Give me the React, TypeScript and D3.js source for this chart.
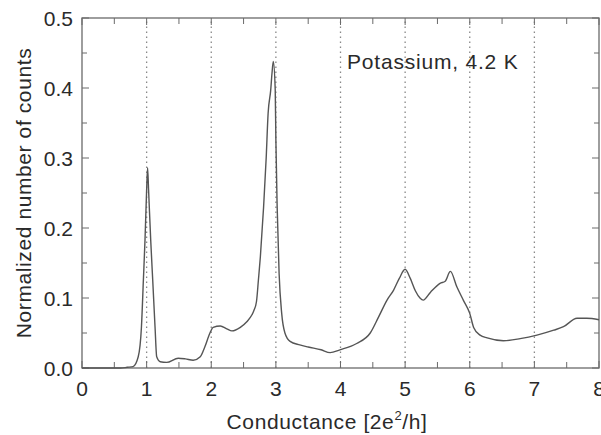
import React, { useEffect, useRef } from 'react';
import * as d3 from 'd3';

// conductance in units of 2e^2/h
const conductance = [
  0, 0.3, 0.6, 0.7, 0.79, 0.87, 0.92, 0.95, 0.975, 1.0, 1.015, 1.03, 1.063, 1.094, 1.13, 1.156,
  1.21, 1.31, 1.49, 1.6, 1.72, 1.83, 1.9, 1.98, 2.03, 2.14, 2.24, 2.32, 2.45, 2.55, 2.63, 2.66,
  2.7, 2.73, 2.76, 2.81, 2.85, 2.88, 2.92, 2.94, 2.96, 2.99, 3.0, 3.02, 3.05, 3.09, 3.14, 3.22,
  3.37, 3.5, 3.7, 3.84, 3.99, 4.25, 4.46, 4.59, 4.72, 4.82, 4.91, 5.0, 5.08, 5.16, 5.23, 5.28,
  5.39, 5.54, 5.62, 5.7, 5.8, 5.9, 6.0, 6.06, 6.16, 6.27, 6.52, 6.78, 7.04, 7.3, 7.45, 7.66,
  7.81, 8.0,
];
// normalized number of counts
const counts = [
  0, 0, 0, 0.001, 0.002, 0.016, 0.059, 0.126, 0.183, 0.254, 0.286, 0.255, 0.183, 0.126, 0.059, 0.016,
  0.009, 0.008, 0.014, 0.013, 0.011, 0.016, 0.03, 0.05, 0.058, 0.06, 0.056, 0.053, 0.058, 0.066, 0.076, 0.082,
  0.095, 0.126, 0.159, 0.23, 0.3, 0.364, 0.397, 0.421, 0.438, 0.397, 0.326, 0.23, 0.135, 0.078, 0.05, 0.038,
  0.033, 0.03, 0.026, 0.022, 0.026, 0.035, 0.05, 0.073, 0.097, 0.111, 0.128, 0.141, 0.128, 0.11, 0.1, 0.097,
  0.108, 0.121, 0.124, 0.138, 0.116, 0.097, 0.078, 0.058, 0.047, 0.043, 0.039, 0.042, 0.047, 0.054, 0.059, 0.071,
  0.071, 0.069,
];

const xTicks = [0, 1, 2, 3, 4, 5, 6, 7, 8];
const xMinor = [0.5, 1.5, 2.5, 3.5, 4.5, 5.5, 6.5, 7.5];
const yTicks = [0, 0.1, 0.2, 0.3, 0.4, 0.5];
const yMinor = [0.05, 0.15, 0.25, 0.35, 0.45];
const guideLines = [1, 2, 3, 4, 5, 6, 7];

const W = 601;
const H = 435;
const margin = { top: 18, right: 2, bottom: 67, left: 82 };
const font = '"Liberation Sans", Arial, Helvetica, sans-serif';
const axisColor = '#6a6a6a';
const textColor = '#2a2a2a';

export default function App() {
  const ref = useRef<SVGSVGElement>(null);

  useEffect(() => {
    const svg = d3.select(ref.current);
    svg.selectAll('*').remove();

    const x = d3.scaleLinear().domain([0, 8]).range([margin.left, W - margin.right]);
    const y = d3.scaleLinear().domain([0, 0.5]).range([H - margin.bottom, margin.top]);
    const x0 = x(0), x1 = x(8), y0 = y(0), y1 = y(0.5);

    // dotted guides at integer conductance
    svg.append('g')
      .selectAll('line')
      .data(guideLines)
      .enter()
      .append('line')
      .attr('x1', (d) => x(d))
      .attr('x2', (d) => x(d))
      .attr('y1', y0)
      .attr('y2', y1)
      .style('stroke', '#888')
      .style('stroke-width', 1.3)
      .style('stroke-dasharray', '1.5,3.5');

    // ticks (inward, on all four sides)
    const ticks = svg.append('g').style('stroke', axisColor).style('stroke-width', 1);
    const xt = [...xTicks.map((v) => ({ v, len: 7 })), ...xMinor.map((v) => ({ v, len: 6 }))];
    xt.forEach((t) => {
      ticks.append('line').attr('x1', x(t.v)).attr('x2', x(t.v)).attr('y1', y0).attr('y2', y0 - t.len);
      ticks.append('line').attr('x1', x(t.v)).attr('x2', x(t.v)).attr('y1', y1).attr('y2', y1 + t.len);
    });
    const yt = [...yTicks.map((v) => ({ v, len: 7 })), ...yMinor.map((v) => ({ v, len: 5 }))];
    yt.forEach((t) => {
      ticks.append('line').attr('x1', x0).attr('x2', x0 + t.len).attr('y1', y(t.v)).attr('y2', y(t.v));
      ticks.append('line').attr('x1', x1).attr('x2', x1 - t.len).attr('y1', y(t.v)).attr('y2', y(t.v));
    });

    // frame
    svg.append('rect')
      .attr('x', x0)
      .attr('y', y1)
      .attr('width', x1 - x0)
      .attr('height', y0 - y1)
      .style('fill', 'none')
      .style('stroke', axisColor)
      .style('stroke-width', 1.3);

    // histogram curve
    const line = d3.line<number>()
      .x((d, i) => x(conductance[i]))
      .y((d) => y(d))
      .curve(d3.curveMonotoneX);

    svg.append('path')
      .attr('d', line(counts))
      .style('fill', 'none')
      .style('stroke', '#555')
      .style('stroke-width', 1.4);

    // tick labels
    svg.append('g')
      .selectAll('text')
      .data(xTicks)
      .enter()
      .append('text')
      .attr('x', (d) => x(d))
      .attr('y', y0 + 28)
      .attr('text-anchor', 'middle')
      .style('font-family', font)
      .style('font-size', '21px')
      .style('fill', textColor)
      .text((d) => String(d));

    svg.append('g')
      .selectAll('text')
      .data(yTicks)
      .enter()
      .append('text')
      .attr('x', x0 - 9)
      .attr('y', (d) => y(d) + 7.5)
      .attr('text-anchor', 'end')
      .style('font-family', font)
      .style('font-size', '21px')
      .style('fill', textColor)
      .text((d) => d.toFixed(1));

    // axis titles
    const xt2 = svg.append('text')
      .attr('x', 327)
      .attr('y', y0 + 61)
      .attr('text-anchor', 'middle')
      .style('font-family', font)
      .style('font-size', '21px')
      .style('letter-spacing', '0.6px')
      .style('fill', textColor);
    xt2.append('tspan').text('Conductance [2e');
    xt2.append('tspan').attr('dy', -9).style('font-size', '13px').text('2');
    xt2.append('tspan').attr('dy', 9).text('/h]');

    svg.append('text')
      .attr('transform', `translate(31, ${(y0 + y1) / 2}) rotate(-90)`)
      .attr('text-anchor', 'middle')
      .style('font-family', font)
      .style('font-size', '21px')
      .style('letter-spacing', '0.6px')
      .style('fill', textColor)
      .text('Normalized number of counts');

    svg.append('text')
      .attr('x', 347)
      .attr('y', 69)
      .style('font-family', font)
      .style('font-size', '21px')
      .style('letter-spacing', '0.8px')
      .style('fill', textColor)
      .text('Potassium, 4.2 K');
  }, []);

  return (
    <svg
      ref={ref}
      width={W}
      height={H}
      style={{ position: 'absolute', left: 0, top: 0, background: '#fff' }}
    />
  );
}
